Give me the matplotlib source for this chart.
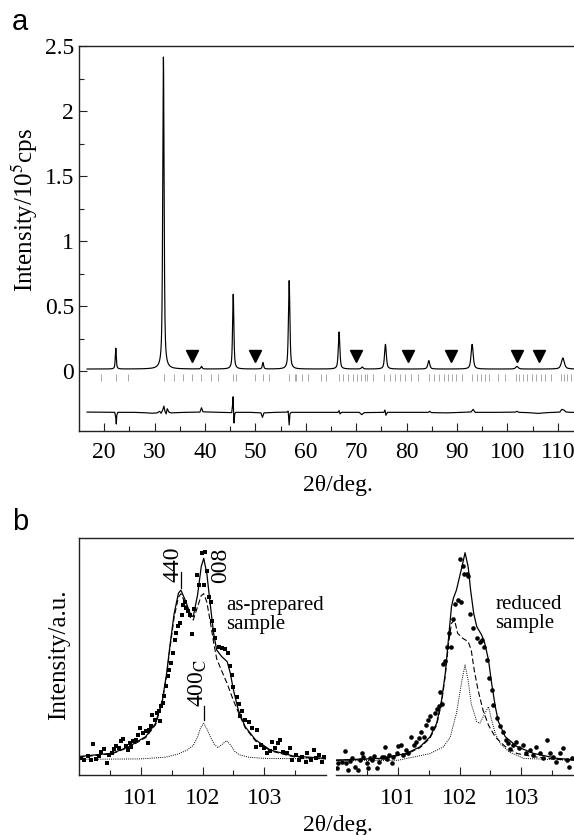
"""
XRD pattern (a) and peak profile comparison (b)
"""

import numpy as np
import matplotlib
matplotlib.use("Agg")
import matplotlib.pyplot as plt
from matplotlib.ticker import FixedLocator, NullLocator

plt.rcParams["font.family"] = ["Liberation Serif", "DejaVu Serif"]
plt.rcParams["mathtext.fontset"] = "stix"
plt.rcParams["font.size"] = 17

# ---------------- panel a data ----------------
# observed pattern as peak list: 2theta, height (1e5 cps), fwhm (deg)
peak_pos = [22.3, 31.75, 39.3, 45.6, 51.5, 56.7, 66.6, 71.2, 75.8, 84.4, 93.0, 101.9, 111.0]
peak_height = [0.16, 2.40, 0.02, 0.575, 0.05, 0.68, 0.285, 0.015, 0.19, 0.065, 0.19, 0.02, 0.085]
peak_fwhm = [0.24, 0.32, 0.3, 0.3, 0.3, 0.34, 0.36, 0.4, 0.42, 0.45, 0.5, 0.6, 0.7]
baseline = 0.015
scan_range = (16.6, 115.0)

# impurity reflections (triangles)
tri_pos = [37.5, 49.9, 70.0, 80.2, 88.8, 101.9, 106.3]
tri_level = 0.115

# Bragg reflection markers
bragg_pos = [19.4, 22.3, 24.8, 31.8, 33.8, 35.7, 37.5, 39.3, 41.1, 42.6, 45.5, 46.2,
             49.9, 51.5, 52.6, 56.7, 57.8, 58.1, 59.3, 60.5, 63.1, 64.1, 66.5, 67.4,
             68.4, 69.4, 70.2, 71.0, 71.7, 72.2, 73.4, 75.6, 76.7, 77.7, 78.7, 79.7,
             80.9, 82.2, 84.4, 85.4, 86.5, 87.4, 88.2, 89.0, 89.9, 90.9, 93.0, 93.9,
             94.8, 95.6, 96.4, 98.2, 99.5, 101.7, 102.3, 103.0, 103.8, 104.8, 105.7,
             106.6, 107.5, 108.6, 110.7, 111.3, 111.9, 112.6]

# difference curve (obs - calc), offset
diff_x = [16.6, 20, 22.1, 22.3, 22.4, 22.5, 22.7, 26, 28.5, 29.5, 30.5, 31.0, 31.3,
          31.6, 31.85, 32.05, 32.3, 32.5, 32.7, 32.9, 33.3, 36, 39.0, 39.3, 39.6, 43,
          45.3, 45.5, 45.58, 45.66, 45.75, 45.9, 46.1, 49, 51.1, 51.4, 51.7, 54, 56.3,
          56.5, 56.7, 56.85, 57.1, 60, 66.4, 66.6, 66.8, 67.1, 70.6, 71.1, 71.6, 75.5,
          75.7, 75.9, 76.2, 80, 84.3, 84.6, 84.9, 88, 91, 92.8, 93.2, 93.6, 98, 101.6,
          101.9, 102.3, 104, 106.1, 108, 110.4, 110.8, 111.2, 111.6, 112.5, 115]
diff_y = [-0.316, -0.317, -0.318, -0.36, -0.408, -0.34, -0.318, -0.318, -0.322, -0.325,
          -0.322, -0.31, -0.325, -0.30, -0.27, -0.31, -0.33, -0.29, -0.305, -0.318,
          -0.322, -0.318, -0.316, -0.283, -0.314, -0.318, -0.32, -0.25, -0.198, -0.30,
          -0.40, -0.33, -0.318, -0.318, -0.322, -0.357, -0.322, -0.318, -0.316, -0.308,
          -0.415, -0.33, -0.318, -0.318, -0.318, -0.305, -0.33, -0.318, -0.318, -0.336,
          -0.32, -0.318, -0.30, -0.34, -0.318, -0.318, -0.318, -0.31, -0.32, -0.322,
          -0.318, -0.315, -0.295, -0.318, -0.318, -0.316, -0.31, -0.318, -0.32, -0.326,
          -0.32, -0.316, -0.295, -0.30, -0.315, -0.318, -0.318]

# ---------------- panel b data ----------------
# as-prepared sample
asp_obs_x = [100.03, 100.08, 100.14, 100.19, 100.22, 100.27, 100.32, 100.36, 100.41, 100.46,
             100.49, 100.54, 100.57, 100.60, 100.65, 100.68, 100.71, 100.76, 100.79, 100.82,
             100.85, 100.88, 100.92, 100.96, 100.99, 101.03, 101.08, 101.11, 101.14, 101.17,
             101.19, 101.23, 101.26, 101.29, 101.31, 101.33, 101.36, 101.38, 101.41, 101.44,
             101.46, 101.49, 101.52, 101.55, 101.57, 101.60, 101.63, 101.66, 101.68, 101.71,
             101.74, 101.77, 101.80, 101.83, 101.87, 101.91, 101.95, 101.99, 102.02, 102.04,
             102.08, 102.11, 102.14, 102.16, 102.19, 102.21, 102.26, 102.31, 102.37, 102.42,
             102.45, 102.48, 102.50, 102.56, 102.59, 102.61, 102.64, 102.69, 102.75, 102.80,
             102.86, 102.88, 102.94, 102.99, 103.04, 103.10, 103.12, 103.18, 103.23, 103.26,
             103.31, 103.37, 103.42, 103.45, 103.51, 103.56, 103.61, 103.67, 103.70, 103.75,
             103.80, 103.83, 103.88, 103.94, 103.97]
asp_obs_y = [0.070, 0.062, 0.082, 0.064, 0.131, 0.066, 0.080, 0.095, 0.108, 0.052,
             0.086, 0.094, 0.110, 0.124, 0.114, 0.142, 0.150, 0.121, 0.106, 0.134,
             0.120, 0.142, 0.149, 0.170, 0.197, 0.177, 0.184, 0.134, 0.191, 0.205,
             0.254, 0.233, 0.261, 0.268, 0.226, 0.290, 0.304, 0.332, 0.374, 0.416,
             0.444, 0.472, 0.515, 0.571, 0.599, 0.627, 0.641, 0.676, 0.718, 0.732,
             0.704, 0.690, 0.676, 0.596, 0.700, 0.844, 0.800, 0.935, 0.800, 0.942,
             0.860, 0.750, 0.730, 0.650, 0.610, 0.580, 0.540, 0.535, 0.530, 0.515,
             0.460, 0.420, 0.370, 0.330, 0.300, 0.250, 0.270, 0.230, 0.225, 0.197,
             0.120, 0.190, 0.126, 0.112, 0.091, 0.103, 0.140, 0.112, 0.133, 0.147,
             0.098, 0.091, 0.112, 0.063, 0.084, 0.063, 0.077, 0.056, 0.091, 0.063,
             0.105, 0.070, 0.084, 0.056, 0.077]
asp_fit_x = [100.0, 100.54, 100.81, 101.08, 101.24, 101.35, 101.42, 101.47, 101.54, 101.61,
             101.65, 101.72, 101.81, 101.85, 101.92, 101.98, 102.02, 102.07, 102.13, 102.18,
             102.23, 102.31, 102.40, 102.45, 102.50, 102.58, 102.69, 102.86, 103.10, 103.47,
             104.0]
asp_fit_y = [0.078, 0.092, 0.12, 0.162, 0.218, 0.316, 0.43, 0.54, 0.68, 0.767,
             0.78, 0.738, 0.675, 0.668, 0.76, 0.88, 0.914, 0.85, 0.71, 0.598,
             0.527, 0.50, 0.478, 0.43, 0.36, 0.274, 0.204, 0.148, 0.105, 0.08,
             0.07]
asp_tet_y = [0.075, 0.09, 0.117, 0.158, 0.212, 0.31, 0.42, 0.53, 0.665, 0.75,
             0.765, 0.725, 0.66, 0.654, 0.71, 0.757, 0.765, 0.73, 0.64, 0.56,
             0.49, 0.44, 0.385, 0.35, 0.315, 0.265, 0.20, 0.143, 0.102, 0.077,
             0.068]
asp_cub_x = [100.0, 101.0, 101.4, 101.6, 101.75, 101.85, 101.92, 101.97, 102.02, 102.07,
             102.13, 102.19, 102.25, 102.32, 102.39, 102.45, 102.52, 102.6, 102.75, 103.0,
             104.0]
asp_cub_y = [0.066, 0.068, 0.075, 0.088, 0.105, 0.125, 0.16, 0.20, 0.218, 0.195,
             0.16, 0.13, 0.115, 0.13, 0.145, 0.128, 0.10, 0.085, 0.075, 0.07,
             0.068]

# reduced sample
red_obs_x = [100.01, 100.04, 100.09, 100.15, 100.17, 100.20, 100.23, 100.26, 100.31, 100.36,
             100.39, 100.42, 100.44, 100.50, 100.52, 100.55, 100.58, 100.61, 100.66, 100.70,
             100.74, 100.77, 100.79, 100.82, 100.86, 100.90, 100.92, 100.98, 101.00, 101.06,
             101.08, 101.13, 101.17, 101.22, 101.27, 101.30, 101.35, 101.38, 101.43, 101.46,
             101.49, 101.52, 101.56, 101.60, 101.64, 101.66, 101.69, 101.72, 101.74, 101.77,
             101.80, 101.83, 101.86, 101.89, 101.93, 101.97, 102.00, 102.03, 102.05, 102.08,
             102.12, 102.14, 102.17, 102.22, 102.28, 102.33, 102.36, 102.40, 102.45, 102.47,
             102.52, 102.55, 102.60, 102.65, 102.70, 102.76, 102.78, 102.82, 102.86, 102.91,
             102.97, 103.03, 103.08, 103.14, 103.19, 103.24, 103.30, 103.35, 103.41, 103.46,
             103.52, 103.57, 103.63, 103.68, 103.74, 103.77, 103.82]
red_obs_y = [0.028, 0.052, 0.056, 0.103, 0.049, 0.021, 0.060, 0.070, 0.035, 0.021,
             0.063, 0.091, 0.074, 0.049, 0.028, 0.070, 0.063, 0.080, 0.028, 0.056,
             0.074, 0.077, 0.119, 0.066, 0.084, 0.049, 0.077, 0.091, 0.122, 0.126,
             0.084, 0.105, 0.091, 0.162, 0.126, 0.141, 0.155, 0.183, 0.162, 0.211,
             0.230, 0.250, 0.200, 0.260, 0.280, 0.290, 0.350, 0.300, 0.470, 0.480,
             0.540, 0.600, 0.540, 0.660, 0.720, 0.738, 0.910, 0.730, 0.880, 0.850,
             0.850, 0.840, 0.680, 0.620, 0.580, 0.560, 0.570, 0.540, 0.485, 0.410,
             0.360, 0.296, 0.240, 0.205, 0.180, 0.148, 0.133, 0.110, 0.126, 0.140,
             0.112, 0.126, 0.091, 0.105, 0.084, 0.119, 0.091, 0.070, 0.148, 0.091,
             0.077, 0.056, 0.091, 0.112, 0.063, 0.035, 0.070]
red_fit_x = [100.0, 100.71, 101.14, 101.36, 101.52, 101.63, 101.71, 101.77, 101.82, 101.87,
             101.90, 101.95, 102.04, 102.09, 102.14, 102.18, 102.23, 102.28, 102.36, 102.41,
             102.47, 102.52, 102.58, 102.63, 102.74, 102.93, 103.20, 103.58, 104.0]
red_fit_y = [0.063, 0.070, 0.091, 0.119, 0.16, 0.218, 0.316, 0.429, 0.57, 0.71,
             0.745, 0.78, 0.879, 0.938, 0.879, 0.78, 0.682, 0.626, 0.59, 0.555,
             0.485, 0.387, 0.288, 0.225, 0.162, 0.12, 0.091, 0.070, 0.062]
red_tet_x = [100.0, 100.71, 101.14, 101.36, 101.52, 101.63, 101.71, 101.77, 101.82, 101.87,
             101.92, 101.97, 102.05, 102.14, 102.19, 102.24, 102.30, 102.38, 102.47, 102.58,
             102.74, 102.93, 103.20, 103.58, 104.0]
red_tet_y = [0.062, 0.068, 0.088, 0.115, 0.155, 0.21, 0.305, 0.42, 0.55, 0.64,
             0.654, 0.598, 0.577, 0.563, 0.527, 0.44, 0.359, 0.274, 0.21, 0.16,
             0.12, 0.091, 0.077, 0.066, 0.062]
red_cub_x = [100.0, 101.0, 101.52, 101.74, 101.85, 101.95, 102.04, 102.09, 102.14, 102.19,
             102.28, 102.33, 102.41, 102.47, 102.52, 102.58, 102.66, 102.80, 103.04, 104.0]
red_cub_y = [0.060, 0.062, 0.09, 0.119, 0.16, 0.26, 0.40, 0.464, 0.40, 0.30,
             0.225, 0.218, 0.26, 0.288, 0.232, 0.175, 0.133, 0.098, 0.07, 0.060]

W, H = 574, 835
SPINE = "#222222"


def style_axes(ax):
    for s in ax.spines.values():
        s.set_color(SPINE)
        s.set_linewidth(1.0)
    ax.tick_params(which="both", direction="in", color=SPINE, width=0.8,
                   top=False, right=False)
    ax.tick_params(which="major", length=5.5)
    ax.tick_params(which="minor", length=3.5)


def profile(x):
    y = np.full_like(x, baseline)
    for p, h, w in zip(peak_pos, peak_height, peak_fwhm):
        g = w / 2
        lor = 1.0 / (1.0 + ((x - p) / g) ** 2)
        gau = np.exp(-np.log(2) * ((x - p) / g) ** 2)
        y += h * (0.65 * lor + 0.35 * gau)
    return y


fig = plt.figure(figsize=(W / 100, H / 100), dpi=100)

# ---------------- panel a ----------------
ax = fig.add_axes([79 / W, (H - 431) / H, 504 / W, 385 / H])
style_axes(ax)
xx = np.arange(scan_range[0], scan_range[1], 0.01)
ax.plot(xx, profile(xx), color="black", lw=0.85)
ax.vlines(bragg_pos, -0.075, -0.023, color="#a8a8a8", lw=0.7)
ax.plot(diff_x, diff_y, color="black", lw=0.85)
ax.plot(tri_pos, [tri_level] * len(tri_pos), "v", color="black", ms=9)
ax.set_xlim(15, 115)
ax.set_ylim(-0.4615, 2.5)
ax.xaxis.set_major_locator(FixedLocator(np.arange(20, 111, 10)))
ax.xaxis.set_minor_locator(FixedLocator(np.arange(25, 111, 10)))
ax.yaxis.set_major_locator(FixedLocator([0, 0.5, 1, 1.5, 2, 2.5]))
ax.yaxis.set_minor_locator(FixedLocator([0.25, 0.75, 1.25, 1.75, 2.25]))
ax.set_yticklabels(["0", "0.5", "1", "1.5", "2", "2.5"])
ax.tick_params(axis="x", pad=8)
ax.tick_params(axis="y", pad=3.5)
ax.spines["right"].set_visible(False)
fig.text(25 / W, (H - 210) / H, "Intensity/10$^5$cps", rotation=90,
         ha="center", va="center", fontsize=18)
fig.text(338 / W, (H - 485) / H, "2θ/deg.", ha="center", va="center", fontsize=17)
fig.text(20 / W, (H - 22) / H, "a", ha="center", va="center", fontsize=21,
         family=["Liberation Sans", "DejaVu Sans"])

# ---------------- panel b ----------------
frame = fig.add_axes([79 / W, 60 / H, 504 / W, 237 / H])
frame.set_xticks([])
frame.set_yticks([])
frame.patch.set_alpha(0)
for k in ["left", "right", "bottom"]:
    frame.spines[k].set_visible(False)
frame.spines["top"].set_color(SPINE)
frame.spines["top"].set_linewidth(1.0)

axl = fig.add_axes([79 / W, 60 / H, 247 / W, 237 / H])
axr = fig.add_axes([336 / W, 60 / H, 247 / W, 237 / H])
for a in (axl, axr):
    style_axes(a)
    a.patch.set_alpha(0)
    a.set_xlim(100, 104)
    a.set_ylim(0, 1)
    a.xaxis.set_major_locator(FixedLocator([101, 102, 103]))
    a.xaxis.set_minor_locator(FixedLocator([100.5, 101.5, 102.5, 103.5]))
    a.yaxis.set_major_locator(NullLocator())
    a.tick_params(axis="x", pad=9)
    a.spines["top"].set_visible(False)
    a.spines["right"].set_visible(False)
axr.spines["left"].set_visible(False)

dash = (0, (5, 2.5))
dot = (0, (1, 1.2))
axl.plot(asp_obs_x, asp_obs_y, "s", color="black", ms=2.9, mew=0)
axl.plot(asp_fit_x, asp_fit_y, color="black", lw=0.9)
axl.plot(asp_fit_x, asp_tet_y, color="black", lw=0.8, ls=dash)
axl.plot(asp_cub_x, asp_cub_y, color="black", lw=0.7, ls=dot)

axr.plot(red_obs_x, red_obs_y, "o", color="black", ms=3.3, mew=0)
axr.plot(red_fit_x, red_fit_y, color="black", lw=0.9)
axr.plot(red_tet_x, red_tet_y, color="black", lw=0.8, ls=dash)
axr.plot(red_cub_x, red_cub_y, color="black", lw=0.7, ls=dot)

# reflection labels
axl.text(101.52, 0.815, "440", rotation=90, ha="center", va="bottom", fontsize=17)
axl.plot([101.65, 101.65], [0.79, 0.855], color="black", lw=0.9)
axl.text(102.30, 0.81, "008", rotation=90, ha="center", va="bottom", fontsize=17)
axl.text(101.93, 0.285, "400$_\\mathrm{C}$", rotation=90, ha="center", va="bottom",
         fontsize=17)
axl.plot([102.03, 102.03], [0.232, 0.292], color="black", lw=0.9)
axl.text(102.38, 0.675, "as-prepared\nsample", ha="left", va="center", fontsize=15,
         linespacing=1.0)
axr.text(102.58, 0.68, "reduced\nsample", ha="left", va="center", fontsize=15,
         linespacing=1.0)

fig.text(59 / W, (H - 655) / H, "Intensity/a.u.", rotation=90, ha="center",
         va="center", fontsize=18)
fig.text(338 / W, (H - 826) / H, "2θ/deg.", ha="center", va="center", fontsize=17)
fig.text(20 / W, (H - 522) / H, "b", ha="center", va="center", fontsize=21,
         family=["Liberation Sans", "DejaVu Sans"])

fig.savefig("out.png", dpi=100, facecolor="white")
